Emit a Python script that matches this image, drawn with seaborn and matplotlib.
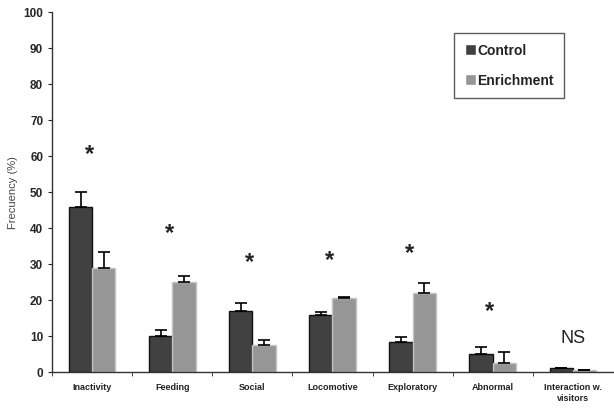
import numpy as np
import pandas as pd
import matplotlib
matplotlib.use("Agg")
import matplotlib.pyplot as plt
import seaborn as sns

# values
behaviours = ["Inactivity", "Feeding", "Social", "Locomotive",
              "Exploratory", "Abnormal", "Interaction w.\nvisitors"]
control_mean = [46, 10, 17, 16, 8.5, 5.1, 1.0]
control_err = [4.0, 1.7, 2.3, 0.7, 1.3, 1.9, 0.2]
enrich_mean = [29, 25, 7.5, 20.5, 22, 2.5, 0.5]
enrich_err = [4.5, 1.7, 1.5, 0.5, 2.8, 3.0, 0.1]
marks = ["*", "*", "*", "*", "*", "*", "NS"]
mark_y = [57.2, 35.2, 27.2, 27.7, 29.7, 13.7, 7]

groups = ["Control", "Enrichment"]
colors = {"Control": "#414141", "Enrichment": "#969696"}
edges = {"Control": "#111111", "Enrichment": "#c4c4c4"}

df = pd.DataFrame({
    "behaviour": behaviours * 2,
    "group": ["Control"] * len(behaviours) + ["Enrichment"] * len(behaviours),
    "freq": control_mean + enrich_mean,
    "err": control_err + enrich_err,
})

sns.set_style("ticks")
plt.rcParams["font.family"] = ["Liberation Sans", "DejaVu Sans"]

fig, ax = plt.subplots(figsize=(6.14, 4.08), dpi=100)
fig.subplots_adjust(left=0.085, right=0.998, bottom=0.088, top=0.97)

sns.barplot(data=df, x="behaviour", y="freq", hue="group", order=behaviours,
            hue_order=groups, palette=colors, width=0.58, errorbar=None,
            saturation=1, ax=ax)

# bar edges and one-sided error bars
for container, g in zip(ax.containers, groups):
    sub = df[df["group"] == g].set_index("behaviour").loc[behaviours]
    xs = []
    for bar in container:
        bar.set_edgecolor(edges[g])
        bar.set_linewidth(1.0)
        xs.append(bar.get_x() + bar.get_width() / 2)
    ax.errorbar(xs, sub["freq"], yerr=[np.zeros(len(xs)), sub["err"]],
                fmt="none", ecolor="black", elinewidth=1.2, capsize=4.5,
                capthick=1.2)

# significance marks
for i, (m, y) in enumerate(zip(marks, mark_y)):
    if m == "*":
        ax.text(i - 0.04, y, m, ha="center", va="bottom", fontsize=17,
                fontweight="bold", color="#222222")
    else:
        ax.text(i, y, m, ha="center", va="bottom", fontsize=13,
                color="#222222")

ax.set_ylim(0, 100)
ax.set_yticks(range(0, 101, 10))
ax.set_xlim(-0.5, len(behaviours) - 0.5)
ax.set_xticks(np.arange(len(behaviours)))
ax.set_xticklabels(behaviours, fontsize=6.5, fontweight="bold",
                   color="#222222")
ax.tick_params(axis="x", length=0, pad=8)
ax.set_xticks(np.arange(len(behaviours)) - 0.5, minor=True)
ax.tick_params(axis="x", which="minor", length=3, direction="out")
ax.tick_params(axis="y", length=3, labelsize=8.5)
for lab in ax.get_yticklabels():
    lab.set_fontweight("bold")
ax.set_xlabel("")
ax.set_ylabel("Frecuency (%)", fontsize=8, color="#444444")
sns.despine(ax=ax)
for s in ["left", "bottom"]:
    ax.spines[s].set_color("#333333")
    ax.spines[s].set_linewidth(1.0)

leg = ax.legend(loc="upper left", bbox_to_anchor=(0.717, 0.942), frameon=True,
                fancybox=False, edgecolor="#333333", fontsize=10,
                handlelength=0.8, handleheight=0.8, handletextpad=0.1,
                labelspacing=1.15, borderpad=0.75, borderaxespad=0)
for t in leg.get_texts():
    t.set_fontweight("bold")
    t.set_color("#222222")
leg.get_frame().set_linewidth(1.0)

fig.savefig("out.png", dpi=100)
